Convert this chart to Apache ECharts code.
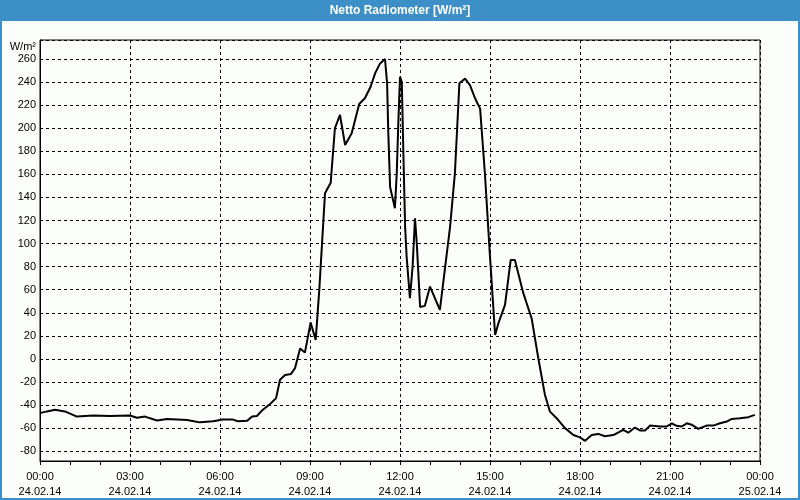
<!DOCTYPE html>
<html>
<head>
<meta charset="utf-8">
<script src="https://cdn.jsdelivr.net/npm/echarts@6/dist/echarts.min.js"></script>
<style>
html,body{margin:0;padding:0;background:#fcfefc;}
#c{width:800px;height:500px;}
</style>
</head>
<body>
<div id="c"></div>
<script>
// Time of day in hours (24.02.14 00:00 = 0)
const times = [0.00,0.23,0.50,0.83,1.23,1.77,2.33,3.00,3.23,3.50,3.90,4.23,4.90,5.33,5.77,6.10,6.43,6.60,6.90,7.07,7.23,7.43,7.67,7.87,8.00,8.17,8.37,8.50,8.67,8.83,9.02,9.19,9.31,9.50,9.69,9.83,10.00,10.17,10.39,10.64,10.83,11.02,11.17,11.33,11.50,11.57,11.61,11.67,11.83,11.89,11.94,12.00,12.06,12.11,12.17,12.22,12.33,12.42,12.50,12.56,12.67,12.83,13.00,13.33,13.67,13.83,13.98,14.17,14.33,14.50,14.67,14.83,15.00,15.17,15.28,15.50,15.69,15.83,16.11,16.39,16.61,16.83,17.00,17.22,17.50,17.78,18.00,18.17,18.39,18.61,18.83,19.11,19.44,19.61,19.83,20.00,20.17,20.33,20.67,20.89,21.06,21.22,21.39,21.56,21.72,21.94,22.22,22.44,22.67,22.89,23.06,23.33,23.61,23.83];
// Netto radiation values, W/m²
const values = [-47,-45.5,-44,-45.5,-50,-49,-49.5,-49,-51,-50,-53.4,-52,-53,-55,-54,-52.6,-52.6,-54,-53.7,-50,-49.5,-44,-39,-34,-18,-14,-13,-8,9,5.5,31.5,16.5,60,143.6,152.8,200,211.5,185.5,195.6,221,226,236,247.6,256,260,239,196,149,130.6,160,201,244.7,240,181,115,89,52.6,80,122,100,45,46,62.7,42.5,114.7,161,239,243,237.5,226,217,161,88.7,20.8,31,46.8,85.8,85.8,57,35,0.6,-31,-45.7,-51.4,-60,-66,-68,-71,-66,-65,-67,-66,-61.5,-64,-59.5,-62,-62,-57.8,-58.6,-58.6,-55.8,-58,-58.6,-55.8,-57,-60.7,-57.8,-57.8,-55.8,-54.3,-52,-51.4,-50.5,-48.5];
// X tick labels (every 3 hours)
const timeLabels = ['00:00','03:00','06:00','09:00','12:00','15:00','18:00','21:00','00:00'];
const dateLabels = ['24.02.14','24.02.14','24.02.14','24.02.14','24.02.14','24.02.14','24.02.14','24.02.14','25.02.14'];

const FONT = 'Liberation Sans';
const blue = '#3d8fc7';
const chart = echarts.init(document.getElementById('c'), null, {renderer:'canvas'});
chart.setOption({
  animation:false,
  backgroundColor:'#fcfefc',
  graphic:[
    {type:'rect', shape:{x:0,y:0,width:800,height:21}, style:{fill:blue}, silent:true, z:-1},
    {type:'rect', shape:{x:1,y:1,width:798,height:498}, style:{fill:null, stroke:blue, lineWidth:2}, silent:true},
    {type:'text', x:400, y:11, style:{text:'Netto Radiometer [W/m²]', fill:'#fff', font:'bold 12px "'+FONT+'"', textAlign:'center', textVerticalAlign:'middle'}},
    {type:'text', x:36, y:47, style:{text:'W/m²', fill:'#000', font:'11px "'+FONT+'"', textAlign:'right', textVerticalAlign:'middle'}}
  ],
  grid:{left:40,right:40,top:40,bottom:39,show:true,borderColor:'#000',borderWidth:1,backgroundColor:'transparent'},
  xAxis:{
    type:'value', min:0, max:24, interval:3,
    axisLine:{show:true,onZero:false,lineStyle:{color:'#000',width:1}},
    axisTick:{show:true,length:4,lineStyle:{color:'#000'}},
    minorTick:{show:true,splitNumber:3,length:4,lineStyle:{color:'#000'}},
    splitLine:{show:true,lineStyle:{color:'#000',type:[3,3],width:1}},
    axisLabel:{color:'#000',fontFamily:FONT,fontSize:11,margin:8,lineHeight:15,
      formatter:function(v){const i=Math.round(v/3);return timeLabels[i]+'\n'+dateLabels[i];}}
  },
  yAxis:{
    type:'value', min:-88.5, max:276.5, splitNumber:18,
    axisLine:{show:true,lineStyle:{color:'#000',width:1}},
    axisTick:{show:false},
    splitLine:{show:true,lineStyle:{color:'#000',type:[3,3],width:1}},
    axisLabel:{color:'#000',fontFamily:FONT,fontSize:11,margin:4,showMinLabel:false,showMaxLabel:false}
  },
  series:[{
    type:'line', data:times.map((t,i)=>[t,values[i]]), showSymbol:false, smooth:false,
    lineStyle:{color:'#000',width:2}, itemStyle:{color:'#000'}
  }]
});
</script>
</body>
</html>
